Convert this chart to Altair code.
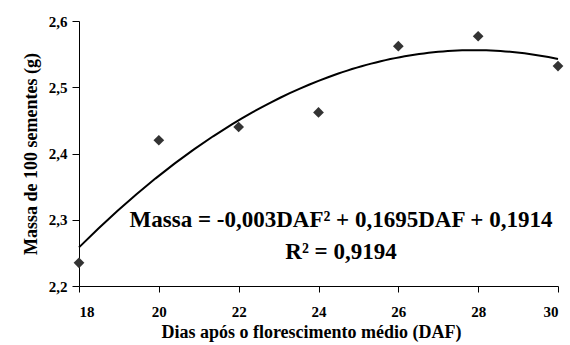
import altair as alt
import pandas as pd

daf = [18, 20, 22, 24, 26, 28, 30]
massa = [2.235, 2.420, 2.440, 2.462, 2.562, 2.577, 2.532]
x_ticks = [18, 20, 22, 24, 26, 28, 30]
y_ticks = [2.2, 2.3, 2.4, 2.5, 2.6]
eq_lines = ["Massa = -0,003DAF² + 0,1695DAF + 0,1914", "R² = 0,9194"]

df = pd.DataFrame({"DAF": daf, "Massa": massa})
FONT = "Liberation Serif"

x = alt.X("DAF:Q", scale=alt.Scale(domain=[18, 30], nice=False, zero=False),
          axis=alt.Axis(values=x_ticks, title="Dias após o florescimento médio (DAF)",
                        grid=False, labelPadding=12, tickSize=6, titlePadding=4,
                        titleX=232, titleAnchor="middle", titleAlign="center"))
y = alt.Y("Massa:Q", scale=alt.Scale(domain=[2.2, 2.6], nice=False, zero=False),
          axis=alt.Axis(values=y_ticks, title="Massa de 100 sementes (g)", grid=False,
                        labelExpr="replace(format(datum.value, '.1f'), '.', ',')",
                        tickSize=7, labelPadding=5, titlePadding=8))

base = alt.Chart(df)
pts = base.mark_point(shape="diamond", filled=True, size=115, color="#333333", opacity=1).encode(x=x, y=y)
curve = base.transform_regression("DAF", "Massa", method="poly", order=2, extent=[18, 30]).mark_line(
    color="black", strokeWidth=2).encode(x=x, y=y)

eq = pd.DataFrame({"t": eq_lines, "yy": [206, 238]})
txt = alt.Chart(eq).mark_text(font=FONT, fontWeight="bold", fontSize=23, align="center",
                              baseline="alphabetic", color="black").encode(
    text="t:N", x=alt.value(262), y=alt.Y("yy:Q", scale=None))

chart = alt.layer(curve, pts, txt).properties(
    width=479, height=265,
    autosize=alt.AutoSizeParams(type="none"),
    padding={"left": 79, "top": 21, "right": 12, "bottom": 59},
).configure_view(stroke=None).configure_axis(
    labelFont=FONT, titleFont=FONT, labelFontWeight="bold", titleFontWeight="bold",
    labelFontSize=15, titleFontSize=18, labelColor="black", titleColor="black",
    domainColor="black", tickColor="black", domainWidth=1, tickWidth=1
)

chart.save("out.html", embed_options={"renderer": "svg", "actions": False})
